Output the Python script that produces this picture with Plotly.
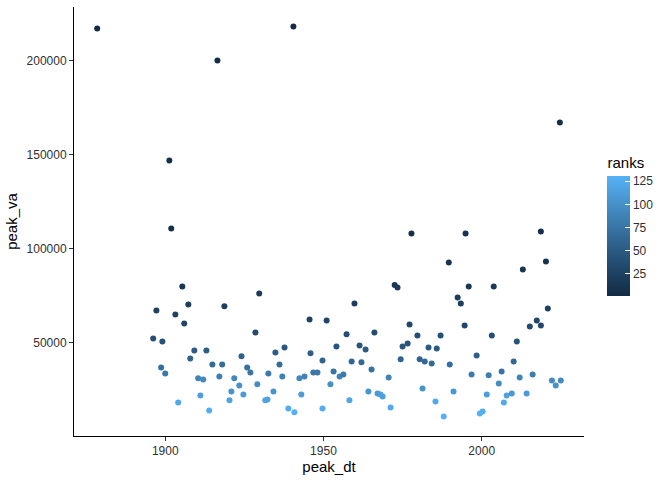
import numpy as np
import pandas as pd
import plotly.graph_objects as go

# peak year and peak value
peak_dt = [
    1878.5, 1940.5, 1916.5, 1901.3, 1901.9, 2024.7, 1977.8, 1994.9, 2018.7,
    1905.4, 1907.3, 1897.2, 1903.2, 1906.0, 1918.7, 1896.2, 1899.1, 1909.2,
    1913.0, 1907.9, 1924.1, 1898.7, 1900.0, 1914.9, 1918.0, 1925.9, 1926.9,
    1910.4, 1912.0, 1917.1, 1921.8, 1923.4, 1911.1, 1920.9, 1924.7, 1920.3,
    1904.1, 1913.9, 1929.7, 1972.5, 1973.4, 1959.8, 1945.6, 1951.0, 1928.5,
    1957.3, 1966.1, 1977.2, 1979.7, 1934.8, 1937.7, 1945.9, 1954.1, 1961.4,
    1963.3, 1975.0, 1976.6, 1974.4, 1980.4, 1936.1, 1949.7, 1958.9, 1962.0,
    1965.2, 1932.6, 1937.0, 1942.4, 1944.0, 1946.8, 1948.1, 1953.2, 1955.1,
    1956.3, 1970.6, 1929.1, 1952.2, 1934.2, 1943.0, 1931.6, 1932.3, 1964.2,
    1967.1, 1968.0, 1968.7, 1958.2, 1938.9, 1940.8, 1949.7, 1971.2, 1989.6,
    2020.3, 2013.0, 1995.9, 2003.8, 1992.4, 1993.4, 2020.9, 1994.6, 2017.4,
    2015.2, 2018.7, 1987.0, 2003.2, 2011.1, 1983.2, 1985.8, 1982.0, 1984.2,
    1989.9, 1998.4, 2010.1, 1996.8, 2002.2, 2006.3, 2012.0, 2016.1, 2005.4,
    2022.2, 2025.0, 2023.4, 1981.3, 1991.1, 2001.6, 2007.9, 2009.5, 2014.2,
    1985.4, 2007.0, 1988.0, 1999.4, 2000.3,
]
peak_va = [
    217000, 218100, 200000, 146800, 110600, 167000, 108000, 108000, 109000,
    79800, 70200, 67000, 64900, 60100, 69200, 52100, 50500, 45700,
    45700, 41500, 42600, 36700, 33500, 38300, 38300, 36700, 34000,
    30900, 30300, 31900, 30900, 27100, 21800, 23900, 22300, 19200,
    18100, 13800, 76100, 80500, 79300, 70700, 62200, 61700, 55300,
    54300, 55300, 59600, 53700, 44700, 47300, 44200, 47900, 48400,
    46300, 47900, 49500, 41000, 41000, 38300, 40400, 39900, 39400,
    35600, 33500, 31900, 30900, 31900, 34000, 34000, 34600, 31900,
    33000, 31400, 27700, 27700, 23900, 22300, 19200, 19700, 23900,
    22900, 22300, 21300, 19200, 14900, 12800, 14900, 15400, 92600,
    93100, 88800, 79800, 79800, 73900, 70700, 68100, 59000, 61700,
    58500, 59000, 53700, 53700, 50500, 47300, 46800, 39900, 38800,
    38300, 43100, 39900, 33000, 32500, 34600, 31400, 33000, 28200,
    29800, 29800, 27100, 25500, 23900, 22300, 21800, 22900, 22900,
    18600, 18100, 10600, 12200, 13300,
]

df = pd.DataFrame({"peak_dt": peak_dt, "peak_va": peak_va})
df["ranks"] = df["peak_va"].rank(ascending=False, method="first")

# ggplot default continuous colour scale (dark -> light blue)
gg_blues = [
    [0.0, "#132B43"],
    [0.25, "#22496D"],
    [0.5, "#336A98"],
    [0.75, "#458FC6"],
    [1.0, "#56B1F7"],
]


def expand(v, frac=0.05):
    lo, hi = min(v), max(v)
    pad = (hi - lo) * frac
    return [lo - pad, hi + pad]


fig = go.Figure()
fig.add_trace(go.Scatter(
    x=df["peak_dt"], y=df["peak_va"], mode="markers",
    marker=dict(
        size=6, color=df["ranks"], colorscale=gg_blues,
        cmin=1, cmax=len(df),
        colorbar=dict(
            title=dict(text="ranks", side="top",
                       font=dict(size=15, color="black")),
            x=1.046, xanchor="left", y=0.658, yanchor="top",
            lenmode="pixels", len=142, thickness=23, ypad=0, xpad=0,
            tickvals=[25, 50, 75, 100, 125],
            ticks="inside", ticklen=5, tickcolor="white", tickwidth=1,
            tickfont=dict(size=12, color="#303030"),
            outlinewidth=0,
        ),
    ),
    showlegend=False,
))

axis_common = dict(
    showgrid=False, zeroline=False, showline=True, linecolor="black",
    linewidth=1, ticks="outside", ticklen=4, tickcolor="#333333",
    tickfont=dict(size=12, color="#303030"),
    title_font=dict(size=15, color="black"),
)

fig.update_xaxes(title_text="peak_dt", range=expand(peak_dt),
                 tickvals=[1900, 1950, 2000], title_standoff=4,
                 **axis_common)
fig.update_yaxes(title_text="peak_va", range=expand(peak_va),
                 tickvals=[50000, 100000, 150000, 200000],
                 tickformat="d", title_standoff=5, **axis_common)

fig.update_layout(
    width=672, height=480,
    margin=dict(l=74, r=88, t=7, b=44),
    plot_bgcolor="white", paper_bgcolor="white",
    font=dict(family="Liberation Sans, Arial, sans-serif"),
)

# drop the browser's default page margin so the figure sits at 0,0
fig.write_html("out.html", config={"displayModeBar": False},
               post_script="document.body.style.margin='0';")
